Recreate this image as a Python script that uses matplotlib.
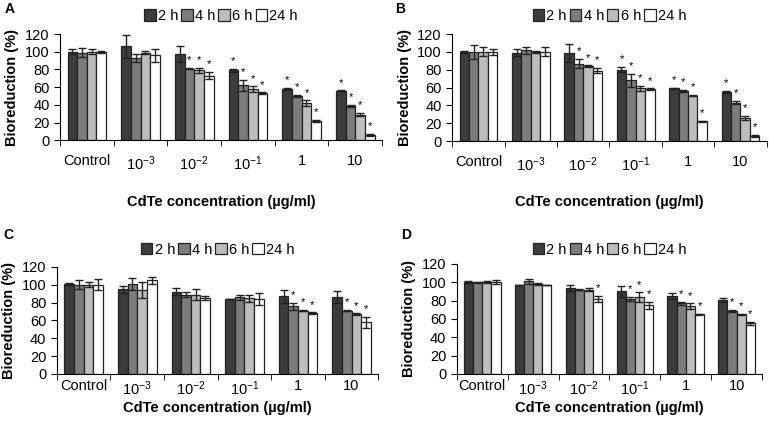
import numpy as np
import matplotlib.pyplot as plt

plt.rcParams['font.family'] = ['Liberation Sans', 'DejaVu Sans']
plt.rcParams['mathtext.default'] = 'regular'

# concentrations (x categories) and time series
categories = ["Control", "10$^{-3}$", "10$^{-2}$", "10$^{-1}$", "1", "10"]
times = ["2 h", "4 h", "6 h", "24 h"]

# Panel A: mean, error, significance (rows = time, cols = concentration)
a_mean = [[100, 106, 98, 79, 58, 56],
          [99, 93, 81, 62, 50, 39],
          [100, 99, 79, 58, 42, 29],
          [100, 96, 73, 53, 22, 6]]
a_err = [[3, 13, 9, 2, 1, 0.5],
         [5, 4, 0.5, 6, 1, 1],
         [3, 2, 3, 3, 3, 2],
         [1, 7, 4, 1, 1, 1]]
a_sig = [[0, 0, 0, 1, 1, 1],
         [0, 0, 1, 1, 1, 1],
         [0, 0, 1, 1, 1, 1],
         [0, 0, 1, 1, 1, 1]]

# Panel B
b_mean = [[100, 99, 99, 80, 59, 55],
          [100, 102, 87, 68, 56, 43],
          [100, 100, 84, 59, 51, 26],
          [100, 100, 79, 58, 22, 6]]
b_err = [[1, 4, 10, 3, 1, 1],
         [8, 4, 5, 7, 1, 2],
         [5, 1, 1, 3, 1, 2],
         [3, 5, 3, 1, 0.5, 1]]
b_sig = [[0, 0, 0, 1, 1, 1],
         [0, 0, 1, 1, 1, 1],
         [0, 0, 1, 1, 1, 1],
         [0, 0, 1, 1, 1, 1]]

# Panel C
c_mean = [[101, 95, 92, 84, 87, 86],
          [100, 101, 89, 86, 76, 71],
          [100, 94, 89, 85, 71, 67],
          [100, 105, 85, 84, 68, 58]]
c_err = [[1, 4, 4, 0.5, 7, 7],
         [5, 7, 3, 3, 4, 1],
         [3, 9, 6, 4, 0.5, 1],
         [6, 4, 2, 7, 1, 6]]
c_sig = [[0, 0, 0, 0, 0, 0],
         [0, 0, 0, 0, 1, 1],
         [0, 0, 0, 0, 1, 1],
         [0, 0, 0, 0, 1, 1]]

# Panel D
d_mean = [[100, 97, 94, 90, 85, 81],
          [100, 101, 92, 82, 77, 69],
          [100, 98, 92, 84, 74, 65],
          [100, 97, 82, 75, 65, 55]]
d_err = [[1, 0.5, 3, 6, 3, 2],
         [0.5, 3, 0.5, 2, 2, 1],
         [1, 1, 2, 5, 3, 0.5],
         [2, 0.5, 3, 4, 0.5, 2]]
d_sig = [[0, 0, 0, 0, 0, 0],
         [0, 0, 0, 1, 1, 1],
         [0, 0, 0, 1, 1, 1],
         [0, 0, 1, 1, 1, 1]]

colors = ["#3c3c3c", "#7c7c7c", "#bdbdbd", "#ffffff"]

fig = plt.figure(figsize=(7.69, 4.21), dpi=100)

# letter, data, axes rect, legend y, xlabel y, letter x, letter y (figure coords)
panels = [
    ("A", a_mean, a_err, a_sig, [0.078, 0.667, 0.419, 0.252], 0.962, 0.52, 0.006, 0.978),
    ("B", b_mean, b_err, b_sig, [0.588, 0.665, 0.409, 0.254], 0.962, 0.52, 0.514, 0.978),
    ("C", c_mean, c_err, c_sig, [0.074, 0.112, 0.418, 0.254], 0.407, 0.030, 0.004, 0.441),
    ("D", d_mean, d_err, d_sig, [0.594, 0.112, 0.397, 0.261], 0.407, 0.030, 0.522, 0.441),
]

for letter, mean, err, sig, pos, leg_y, xl_y, lx, ly in panels:
    ax = fig.add_axes(pos)
    x = np.arange(len(categories))
    w = 0.18
    for i, t in enumerate(times):
        xs = x + (i - 1.5) * w
        ax.bar(xs, mean[i], width=w, color=colors[i], edgecolor="#222222",
               linewidth=0.9, label=t, zorder=2)
        ax.errorbar(xs, mean[i], yerr=err[i], fmt="none", ecolor="#222222",
                    elinewidth=1.0, capsize=3, capthick=1.0, zorder=3)
        for j in range(len(categories)):
            if sig[i][j]:
                ax.text(xs[j], mean[i][j] + err[i][j] + 3, "*", ha="center",
                        va="bottom", fontsize=8)
    ax.set_xlim(-0.5, len(categories) - 0.5)
    ax.set_ylim(0, 120)
    ax.set_yticks(range(0, 121, 20))
    ax.set_xticks(x)
    ax.set_xticklabels(categories)
    ax.set_xticks(np.arange(-0.5, len(categories), 1), minor=True)
    ax.tick_params(axis="x", which="major", length=0, pad=10 if letter in "AB" else 4)
    ax.tick_params(axis="x", which="minor", length=4, direction="out")
    ax.tick_params(axis="y", length=4, direction="out")
    ax.tick_params(labelsize=10.5)
    ax.spines["top"].set_visible(False)
    ax.spines["right"].set_visible(False)
    ax.set_ylabel("Bioreduction (%)", fontsize=10.5, fontweight="bold")
    fig.text(pos[0] + pos[2] / 2, xl_y, "CdTe concentration (\u00b5g/ml)",
             ha="center", va="center", fontsize=10.5, fontweight="bold")
    leg = ax.legend(ncol=4, loc="center", frameon=False, fontsize=10.5,
                    handlelength=0.8, handleheight=0.8, handletextpad=0.15,
                    columnspacing=0.2, borderpad=0)
    leg.set_bbox_to_anchor((pos[0] + pos[2] / 2, leg_y), transform=fig.transFigure)
    fig.text(lx, ly, letter, fontsize=10, fontweight="bold", va="center")

fig.savefig("out.png", dpi=100)
